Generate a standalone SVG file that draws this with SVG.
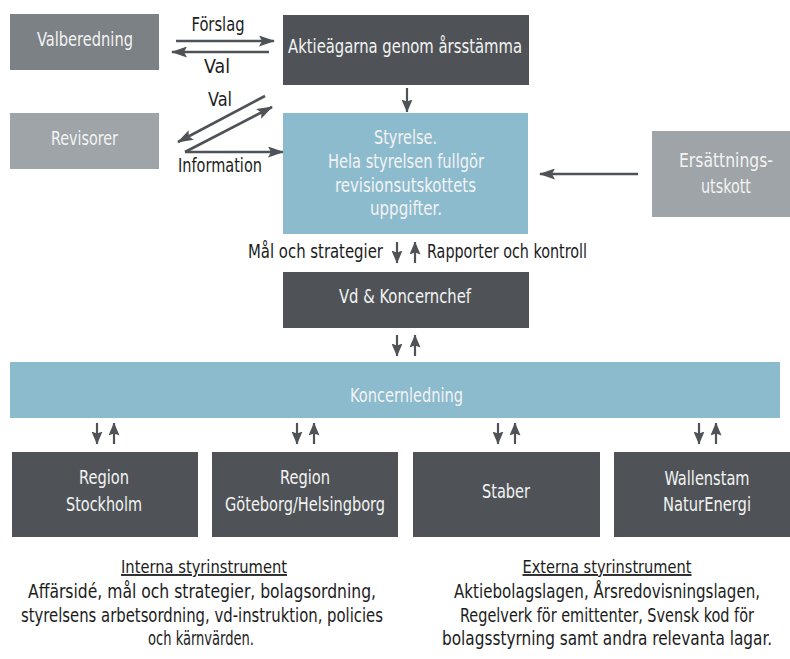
<svg xmlns="http://www.w3.org/2000/svg" width="790" height="659" viewBox="0 0 790 659">
  <defs>
    <style>
      text { font-family: "Liberation Sans Narrow", "DejaVu Sans Condensed", "Liberation Sans", sans-serif; text-anchor: middle; }
      .dark { fill: #4f5357; }
      .mid { fill: #7b8185; }
      .light { fill: #9ea4a7; }
      .blue { fill: #8dbbce; }
      .lbl { fill: #f3f3f3; font-size: 20px; }
      .cap { fill: #1c1c1c; font-size: 19px; }
      .body { fill: #1c1c1c; font-size: 20px; }
      .head { fill: #1c1c1c; font-size: 18px; text-decoration: underline; }
      .wire { stroke: #4f5357; stroke-width: 2.6; fill: none; }
      .tick { stroke: #4f5357; stroke-width: 2.2; fill: none; }
    </style>
    <marker id="bigHead" viewBox="0 0 16 11" markerWidth="16" markerHeight="11" refX="15" refY="5.5" orient="auto" markerUnits="userSpaceOnUse">
      <path d="M0,0 L16,5.5 L0,11 L3,5.5 z" fill="#4f5357"/>
    </marker>
    <marker id="smallHead" viewBox="0 0 13 11" markerWidth="13" markerHeight="11" refX="12.5" refY="5.5" orient="auto" markerUnits="userSpaceOnUse">
      <path d="M0,0 L13,5.5 L0,11 L2,5.5 z" fill="#4f5357"/>
    </marker>
  </defs>

  <rect width="790" height="659" fill="#ffffff"/>

  <!-- connectors -->
  <g id="connectors">
    <line class="wire" x1="176" y1="41" x2="274" y2="41" marker-end="url(#bigHead)"/>
    <line class="wire" x1="269" y1="52" x2="172" y2="52" marker-end="url(#bigHead)"/>
    <line class="wire" x1="265" y1="96" x2="178" y2="142" marker-end="url(#bigHead)"/>
    <line class="wire" x1="185" y1="152" x2="272" y2="107" marker-end="url(#bigHead)"/>
    <line class="wire" x1="185" y1="152" x2="283" y2="152" marker-end="url(#bigHead)"/>
    <line class="wire" x1="638" y1="174" x2="540" y2="174" marker-end="url(#bigHead)"/>

    <line class="tick" x1="407" y1="88" x2="407" y2="112" marker-end="url(#smallHead)"/>

    <line class="tick" x1="397" y1="242" x2="397" y2="263" marker-end="url(#smallHead)"/>
    <line class="tick" x1="415" y1="263" x2="415" y2="242" marker-end="url(#smallHead)"/>

    <line class="tick" x1="397" y1="335" x2="397" y2="356" marker-end="url(#smallHead)"/>
    <line class="tick" x1="415" y1="356" x2="415" y2="335" marker-end="url(#smallHead)"/>

    <line class="tick" x1="97" y1="423" x2="97" y2="444" marker-end="url(#smallHead)"/>
    <line class="tick" x1="114" y1="444" x2="114" y2="423" marker-end="url(#smallHead)"/>
    <line class="tick" x1="297" y1="423" x2="297" y2="444" marker-end="url(#smallHead)"/>
    <line class="tick" x1="314" y1="444" x2="314" y2="423" marker-end="url(#smallHead)"/>
    <line class="tick" x1="498" y1="423" x2="498" y2="444" marker-end="url(#smallHead)"/>
    <line class="tick" x1="515" y1="444" x2="515" y2="423" marker-end="url(#smallHead)"/>
    <line class="tick" x1="699" y1="423" x2="699" y2="444" marker-end="url(#smallHead)"/>
    <line class="tick" x1="716" y1="444" x2="716" y2="423" marker-end="url(#smallHead)"/>

    <text class="cap" x="218" y="31" textLength="53" lengthAdjust="spacingAndGlyphs">Förslag</text>
    <text class="cap" x="217" y="73" textLength="26" lengthAdjust="spacingAndGlyphs">Val</text>
    <text class="cap" x="220" y="106" textLength="24" lengthAdjust="spacingAndGlyphs">Val</text>
    <text class="cap" x="220" y="172" textLength="84" lengthAdjust="spacingAndGlyphs">Information</text>
    <text class="cap" x="315.5" y="258" textLength="135" lengthAdjust="spacingAndGlyphs">Mål och strategier</text>
    <text class="cap" x="507" y="258" textLength="160" lengthAdjust="spacingAndGlyphs">Rapporter och kontroll</text>
  </g>

  <!-- nodes -->
  <g id="valberedning">
    <rect class="mid" x="10" y="14" width="149" height="56"/>
    <text class="lbl" x="85" y="46" textLength="96" lengthAdjust="spacingAndGlyphs">Valberedning</text>
  </g>

  <g id="aktieagarna">
    <rect class="dark" x="283" y="15" width="246" height="70"/>
    <text class="lbl" x="405" y="53" font-size="21" textLength="234" lengthAdjust="spacingAndGlyphs">Aktieägarna genom årsstämma</text>
  </g>

  <g id="revisorer">
    <rect class="light" x="10" y="113" width="149" height="56"/>
    <text class="lbl" x="84.5" y="145" textLength="67" lengthAdjust="spacingAndGlyphs">Revisorer</text>
  </g>

  <g id="styrelse">
    <rect class="blue" x="283" y="113" width="245" height="121"/>
    <text class="lbl" x="405.5" y="144" textLength="63" lengthAdjust="spacingAndGlyphs">Styrelse.</text>
    <text class="lbl" x="406" y="168" textLength="156" lengthAdjust="spacingAndGlyphs">Hela styrelsen fullgör</text>
    <text class="lbl" x="405.5" y="192" textLength="141" lengthAdjust="spacingAndGlyphs">revisionsutskottets</text>
    <text class="lbl" x="406" y="215" textLength="72" lengthAdjust="spacingAndGlyphs">uppgifter.</text>
  </g>

  <g id="ersattningsutskott">
    <rect class="light" x="652" y="131" width="148" height="86"/>
    <text class="lbl" x="726" y="167" textLength="94" lengthAdjust="spacingAndGlyphs">Ersättnings-</text>
    <text class="lbl" x="726" y="193" textLength="50" lengthAdjust="spacingAndGlyphs">utskott</text>
  </g>

  <g id="vd">
    <rect class="dark" x="283" y="272" width="246" height="56"/>
    <text class="lbl" x="405" y="303" textLength="132" lengthAdjust="spacingAndGlyphs">Vd &amp; Koncernchef</text>
  </g>

  <g id="koncernledning">
    <rect class="blue" x="10" y="362" width="770" height="56"/>
    <text class="lbl" x="406.5" y="402" textLength="113" lengthAdjust="spacingAndGlyphs">Koncernledning</text>
  </g>

  <g id="region-stockholm">
    <rect class="dark" x="12" y="452" width="186" height="85"/>
    <text class="lbl" x="104" y="484" textLength="50" lengthAdjust="spacingAndGlyphs">Region</text>
    <text class="lbl" x="104" y="511" textLength="76" lengthAdjust="spacingAndGlyphs">Stockholm</text>
  </g>

  <g id="region-goteborg">
    <rect class="dark" x="212" y="452" width="186" height="85"/>
    <text class="lbl" x="305" y="484" textLength="50" lengthAdjust="spacingAndGlyphs">Region</text>
    <text class="lbl" x="305" y="511" textLength="160" lengthAdjust="spacingAndGlyphs">Göteborg/Helsingborg</text>
  </g>

  <g id="staber">
    <rect class="dark" x="413" y="452" width="187" height="85"/>
    <text class="lbl" x="506" y="498" textLength="48" lengthAdjust="spacingAndGlyphs">Staber</text>
  </g>

  <g id="wallenstam-naturenergi">
    <rect class="dark" x="614" y="452" width="186" height="85"/>
    <text class="lbl" x="707" y="485" textLength="85" lengthAdjust="spacingAndGlyphs">Wallenstam</text>
    <text class="lbl" x="707" y="511" textLength="88" lengthAdjust="spacingAndGlyphs">NaturEnergi</text>
  </g>

  <!-- governance instruments, set in a horizontally condensed block -->
  <g id="interna" transform="translate(202 0) scale(0.8 1)">
    <text class="head" x="2.5" y="573" textLength="207.5" lengthAdjust="spacingAndGlyphs">Interna styrinstrument</text>
    <text class="body" x="0" y="598" textLength="435" lengthAdjust="spacingAndGlyphs">Affärsidé, mål och strategier, bolagsordning,</text>
    <text class="body" x="0" y="622" textLength="452.5" lengthAdjust="spacingAndGlyphs">styrelsens arbetsordning, vd-instruktion, policies</text>
    <text class="body" x="-1.25" y="645" textLength="132.5" lengthAdjust="spacingAndGlyphs">och kärnvärden.</text>
  </g>

  <g id="externa" transform="translate(607 0) scale(0.8 1)">
    <text class="head" x="0" y="573" textLength="211.25" lengthAdjust="spacingAndGlyphs">Externa styrinstrument</text>
    <text class="body" x="0" y="598" textLength="382.5" lengthAdjust="spacingAndGlyphs">Aktiebolagslagen, Årsredovisningslagen,</text>
    <text class="body" x="0" y="622" textLength="367.5" lengthAdjust="spacingAndGlyphs">Regelverk för emittenter, Svensk kod för</text>
    <text class="body" x="0" y="645" textLength="412.5" lengthAdjust="spacingAndGlyphs">bolagsstyrning samt andra relevanta lagar.</text>
  </g>
</svg>
